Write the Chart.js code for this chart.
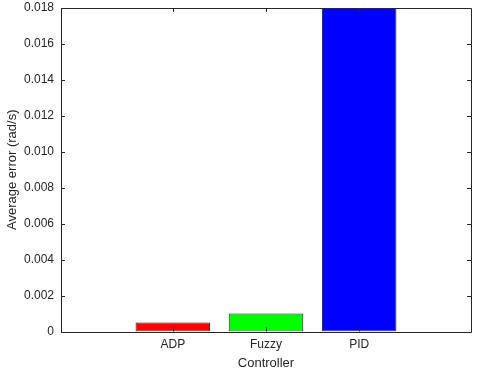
<!DOCTYPE html>
<html lang="en">
  <head>
    <meta charset="UTF-8" />
    <title>Average error by controller</title>
    <style>
      html, body { margin: 0; padding: 0; background: #fff; }
      #wrap { width: 480px; height: 373px; }
    </style>
  </head>
  <body>
    <div id="wrap"><canvas id="myChart" width="480" height="373"></canvas></div>
    <script src="https://cdn.jsdelivr.net/npm/chart.js"></script>
    <script>
      // data
      const categories = ["ADP", "Fuzzy", "PID"];
      const positions = [1, 2, 3];
      const avgError = [0.0005, 0.001, 0.018];
      const barColors = ["#ff0000", "#00ff00", "#0000ff"];
      const yTicks = [0, 0.002, 0.004, 0.006, 0.008, 0.01, 0.012, 0.014, 0.016, 0.018];

      const axisColor = "#262626";
      const fontFamily = "'Liberation Sans', Arial, sans-serif";

      // matlab style box + inward ticks
      const boxPlugin = {
        id: "box",
        afterDatasetsDraw(chart) {
          const { ctx, chartArea: a } = chart;
          const xs = chart.scales.x, ys = chart.scales.y;
          const len = 4;
          ctx.save();
          ctx.strokeStyle = axisColor;
          ctx.lineWidth = 1;
          ctx.beginPath();
          ctx.rect(Math.round(a.left) + 0.5, Math.round(a.top) + 0.5,
                   Math.round(a.right - a.left), Math.round(a.bottom - a.top));
          for (const v of positions) {
            const px = Math.round(xs.getPixelForValue(v)) + 0.5;
            ctx.moveTo(px, a.bottom); ctx.lineTo(px, a.bottom - len);
            ctx.moveTo(px, a.top); ctx.lineTo(px, a.top + len);
          }
          for (const v of yTicks) {
            const py = Math.round(ys.getPixelForValue(v)) + 0.5;
            ctx.moveTo(a.left, py); ctx.lineTo(a.left + len, py);
            ctx.moveTo(a.right, py); ctx.lineTo(a.right - len, py);
          }
          ctx.stroke();
          ctx.restore();
        },
      };

      const ctx = document.getElementById("myChart").getContext("2d");
      const myChart = new Chart(ctx, {
        type: "bar",
        data: {
          datasets: [
            {
              data: positions.map((p, i) => ({ x: p, y: avgError[i] })),
              backgroundColor: barColors,
              borderColor: axisColor,
              borderWidth: 1,
              borderSkipped: false,
              categoryPercentage: 0.8,
              barPercentage: 1.0,
            },
          ],
        },
        options: {
          responsive: false,
          animation: false,
          layout: { padding: { top: 8, right: 9, left: 0, bottom: 0 } },
          plugins: { legend: { display: false }, tooltip: { enabled: false } },
          scales: {
            x: {
              type: "linear",
              offset: false,
              min: -0.2,
              max: 4.2,
              grid: { display: false, drawTicks: false, offset: false },
              border: { display: false },
              afterBuildTicks: (scale) => {
                scale.ticks = positions.map((v) => ({ value: v }));
              },
              afterFit: (scale) => { scale.height = 41.5; },
              ticks: {
                padding: 6,
                color: axisColor,
                font: { family: fontFamily, size: 12 },
                callback: (v) => categories[positions.indexOf(v)] || "",
              },
              title: {
                display: true,
                text: "Controller",
                color: axisColor,
                font: { family: fontFamily, size: 13 },
                padding: { top: 0, bottom: 2 },
              },
            },
            y: {
              min: 0,
              max: 0.018,
              grid: { display: false, drawTicks: false },
              border: { display: false },
              afterBuildTicks: (scale) => {
                scale.ticks = yTicks.map((v) => ({ value: v }));
              },
              afterFit: (scale) => {
                scale.width = 61;
                scale.paddingTop = 0;
                scale.paddingBottom = 0;
              },
              ticks: {
                padding: 7,
                color: axisColor,
                font: { family: fontFamily, size: 12 },
                callback: (v) => (v === 0 ? "0" : v.toFixed(3)),
              },
              title: {
                display: true,
                text: "Average error (rad/s)",
                color: axisColor,
                font: { family: fontFamily, size: 13 },
                padding: { top: 5, bottom: 0 },
              },
            },
          },
        },
        plugins: [boxPlugin],
      });
    </script>
  </body>
</html>
